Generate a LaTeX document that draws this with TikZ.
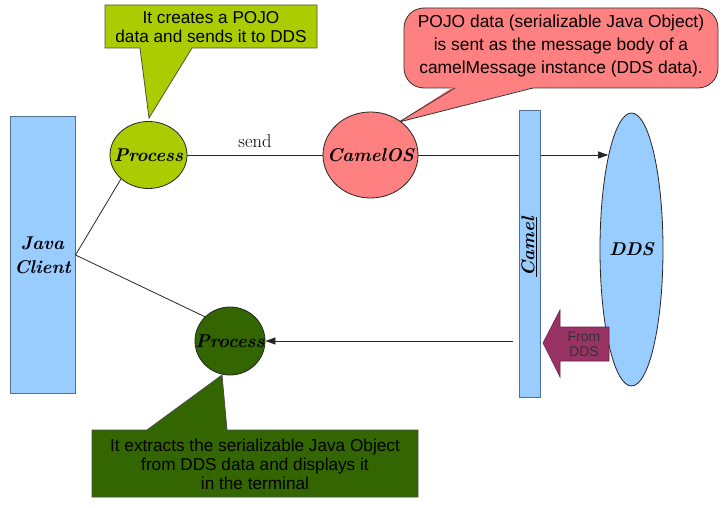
\documentclass[tikz,border=0pt]{standalone}
\usepackage{fontspec}
\newfontfamily\calloutfont{Liberation Sans}
\usetikzlibrary{arrows.meta,shapes.geometric}
\definecolor{lblue}{HTML}{99CCFF}
\definecolor{bluebd}{HTML}{52708F}
\definecolor{ygreen}{HTML}{AACC00}
\definecolor{dgreen}{HTML}{336600}
\definecolor{lred}{HTML}{FF8080}
\definecolor{maroonc}{HTML}{993366}
\definecolor{olivebd}{HTML}{4A5530}
\tikzset{
  bitext/.style={font=\fontsize{18.5}{24}\selectfont\bfseries\itshape},
  procnode/.style={ellipse, draw=black!85, line width=0.8pt, inner sep=0pt},
  bluebox/.style={rectangle, draw=bluebd, fill=lblue, line width=1pt, inner sep=0pt},
  calltext/.style={align=center, inner sep=0pt},
  conn/.style={draw=black!85, line width=0.8pt},
  tip/.style={-{Triangle[length=10pt,width=7pt]}},
}
\begin{document}
\begin{tikzpicture}[x=1pt,y=-1pt]
\useasboundingbox[fill=white] (0,0) rectangle (726,508);

% yellow-green callout
\draw[fill=ygreen, draw=olivebd, line width=0.8pt]
  (105,5) -- (317,5) -- (317,48) -- (192,48) -- (149,118) -- (140,48) -- (105,48) -- cycle;
\node[calltext, font=\calloutfont\fontsize{17.2}{19}\selectfont] (t1) at (211,27)
  {It creates a POJO\\data and sends it to DDS};

% red callout
\draw[fill=lred, draw=black!80, line width=0.8pt, rounded corners=20pt] (404,8) rectangle (718,88);
\fill[lred] (453,87) -- (399,122) -- (535,87) -- cycle;
\draw[draw=black!80, line width=0.8pt] (455,88) -- (399,122) -- (533,88);
\node[calltext, font=\calloutfont\fontsize{17.4}{23}\selectfont] (t2) at (561,46)
  {POJO data (serializable Java Object)\\is sent as the message body of a\\camelMessage instance (DDS data).};

% dark green callout
\draw[fill=dgreen, draw=black!70, line width=0.8pt]
  (92,430) -- (147,430) -- (222,375) -- (227,430) -- (418,430) -- (418,497) -- (92,497) -- cycle;
\node[calltext, font=\calloutfont\fontsize{17.2}{19}\selectfont] (t3) at (255,464)
  {It extracts the serializable Java Object\\from DDS data and displays it\\in the terminal};

% main nodes
\node[bluebox, minimum width=65pt, minimum height=276pt, align=center, bitext] (jc) at (42.5,255) {Java\\Client};
\node[procnode, fill=ygreen, minimum width=77pt, minimum height=67pt,
      label={[bitext, inner sep=0pt]center:Process}] (p1) at (148.5,155) {};
\node[procnode, fill=lred, minimum width=95pt, minimum height=86pt,
      label={[bitext, inner sep=0pt]center:CamelOS}] (cos) at (370.5,155) {};
\node[procnode, fill=dgreen, minimum width=70pt, minimum height=68pt,
      label={[bitext, inner sep=0pt]center:Process}] (p2) at (230,341) {};
\node[ellipse, draw=black!85, fill=lblue, line width=0.8pt, inner sep=0pt, bitext,
      minimum width=63pt, minimum height=273pt] (dds) at (631.5,249.5) {DDS};
\node[bluebox, minimum width=21pt, minimum height=286pt] (camel) at (529.5,254) {};
\node[rotate=90, bitext, inner sep=0pt] (camellbl) at (529,247) {\underline{Camel}};
\coordinate (ret) at (513,341);

% connectors
\draw[conn] (jc.east) -- (p1.221);
\draw[conn] (jc.east) -- (p2.136);
\draw[conn] (p1) -- node[midway, above=7pt, inner sep=0pt, font=\fontsize{18.5}{20}\selectfont] (sendlbl) {send} (cos);
\draw[conn] (cos.east) -- (cos.east -| camel.west);
\draw[conn, tip] (cos.east -| camel.east) -- (cos.east -| dds.104);
\draw[conn, tip] (ret) -- (p2.east);

% From DDS block arrow
\draw[fill=maroonc, draw=maroonc!70!black, line width=0.6pt]
  (609,327) -- (560,327) -- (560,310) -- (543,343) -- (560,377) -- (560,361) -- (609,361) -- cycle;
\node[calltext, text=black!80, font=\calloutfont\fontsize{14}{15}\selectfont] (fromdds) at (584,344) {From\\DDS};
\end{tikzpicture}
\end{document}
